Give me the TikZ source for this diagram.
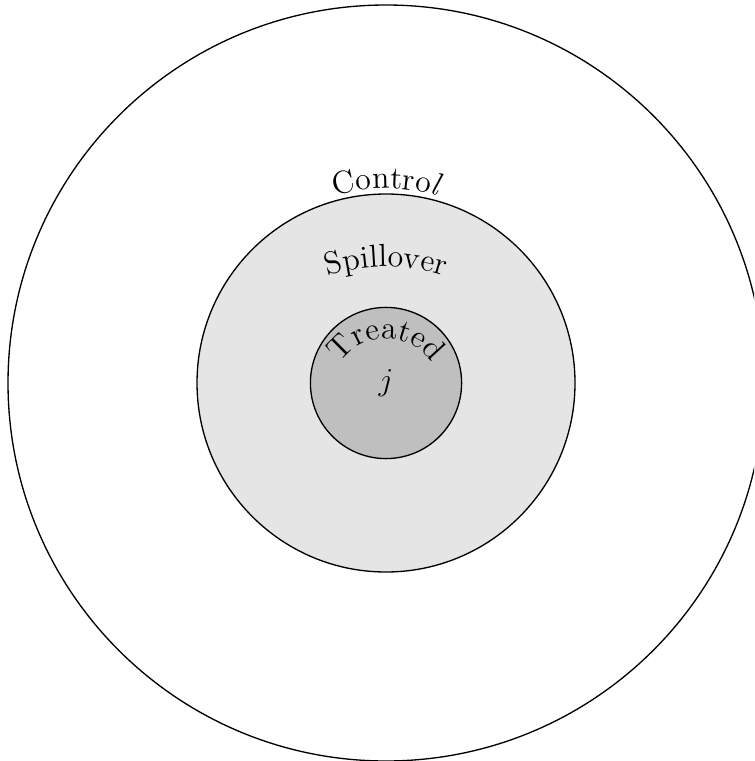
\documentclass[tikz,border=0pt]{standalone}
\usetikzlibrary{decorations.text,calc}
\begin{document}
\begin{tikzpicture}
\tikzset{ring/.style={draw=black, line width=0.5pt},
  arctext/.style={decorate, decoration={text along path, text align=center, text={#1}}}}
\clip (-5.106,-5.0) rectangle (4.868,5.066);
\useasboundingbox (-5.106,-5.0) rectangle (4.868,5.066);
\draw[ring] (0,0) circle (5);
\draw[ring, fill=gray!20] (0,0) circle (2.5);
\draw[ring, fill=gray!50] (0,0) circle (1);
\node (j) at (0,0) {\large $j$};
\path[arctext={|\large|Contro|\large\itshape|l}] (150:2.57) arc (150:30:2.57);
\path[arctext={|\large|Spillover}] ($(0,-0.96)+(140:2.5)$) arc (140:40:2.5);
\path[arctext={|\large|Treated}] ($(0,-0.13)+(178:0.72)$) arc (178:2:0.72);
\end{tikzpicture}
\end{document}
